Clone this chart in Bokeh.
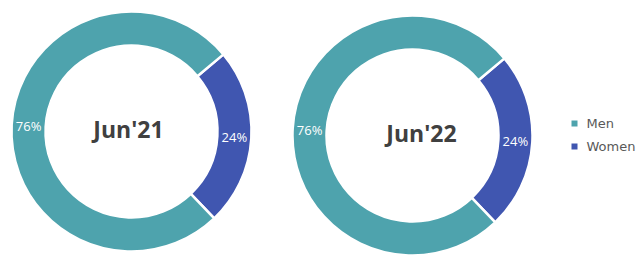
import numpy as np
from bokeh.plotting import figure
from bokeh.models import Range1d, ColumnDataSource
from bokeh.core.properties import value
from bokeh.embed import file_html
from bokeh.resources import INLINE

# ---- data ----
periods = ["Jun'21", "Jun'22"]
categories = ["Women", "Men"]
women_pct = [24, 24]
men_pct = [76, 76]
colors = {"Men": "#4EA3AD", "Women": "#4056B0"}

# ---- layout (pixel-like data coordinates; y = -image row) ----
W, H = 642, 255
centers = [(131, -131), (412, -135)]
outer_r = 120
inner_r = 86
start_clock_from_top = 50  # women slice starts 50 deg clockwise from 12 o'clock

p = figure(width=W, height=H, output_backend="svg", toolbar_location=None,
           x_range=Range1d(0, W), y_range=Range1d(-H, 0),
           min_border=0, outline_line_color=None, background_fill_color="white",
           border_fill_color="white")
p.axis.visible = False
p.grid.visible = False

for i, period in enumerate(periods):
    cx, cy = centers[i]
    vals = [women_pct[i], men_pct[i]]
    total = sum(vals)
    ang0 = np.deg2rad(90 - start_clock_from_top)
    starts, ends, cols, lx, ly, labs = [], [], [], [], [], []
    a = ang0
    for cat, v in zip(categories, vals):
        span = 2 * np.pi * v / total
        starts.append(a)
        ends.append(a - span)
        mid = a - span / 2
        rm = (outer_r + inner_r) / 2
        lx.append(cx + rm * np.cos(mid))
        ly.append(cy + rm * np.sin(mid))
        labs.append(f"{v}%")
        cols.append(colors[cat])
        a -= span
    src = ColumnDataSource(dict(x=[cx] * 2, y=[cy] * 2, s=starts, e=ends, c=cols))
    p.annular_wedge(x="x", y="y", inner_radius=inner_r, outer_radius=outer_r,
                    start_angle="s", end_angle="e", direction="clock",
                    fill_color="c", line_color="white", line_width=2.5, source=src)
    p.text(x=lx, y=ly, text=labs, text_color="white", text_font=value("Open Sans"),
           text_font_size="13px", text_align="center", text_baseline="middle")
    p.text(x=[cx + (-3 if i == 0 else 9)], y=[cy + 3], text=[period],
           text_color="#404040", text_font=value("Open Sans"), text_font_style="bold",
           text_font_size="23px", text_align="center", text_baseline="middle")

# ---- legend ----
leg_x = 574
leg_y = [-123, -146]
leg_cats = ["Men", "Women"]
p.scatter(x=[leg_x] * 2, y=leg_y, marker="square", size=6,
          fill_color=[colors[c] for c in leg_cats], line_color=None)
p.text(x=[leg_x + 12] * 2, y=leg_y, text=leg_cats, text_color="#595959",
       text_font=value("DejaVu Sans"), text_font_size="13px",
       text_align="left", text_baseline="middle")

open("out.html", "w").write(file_html(p, INLINE))
